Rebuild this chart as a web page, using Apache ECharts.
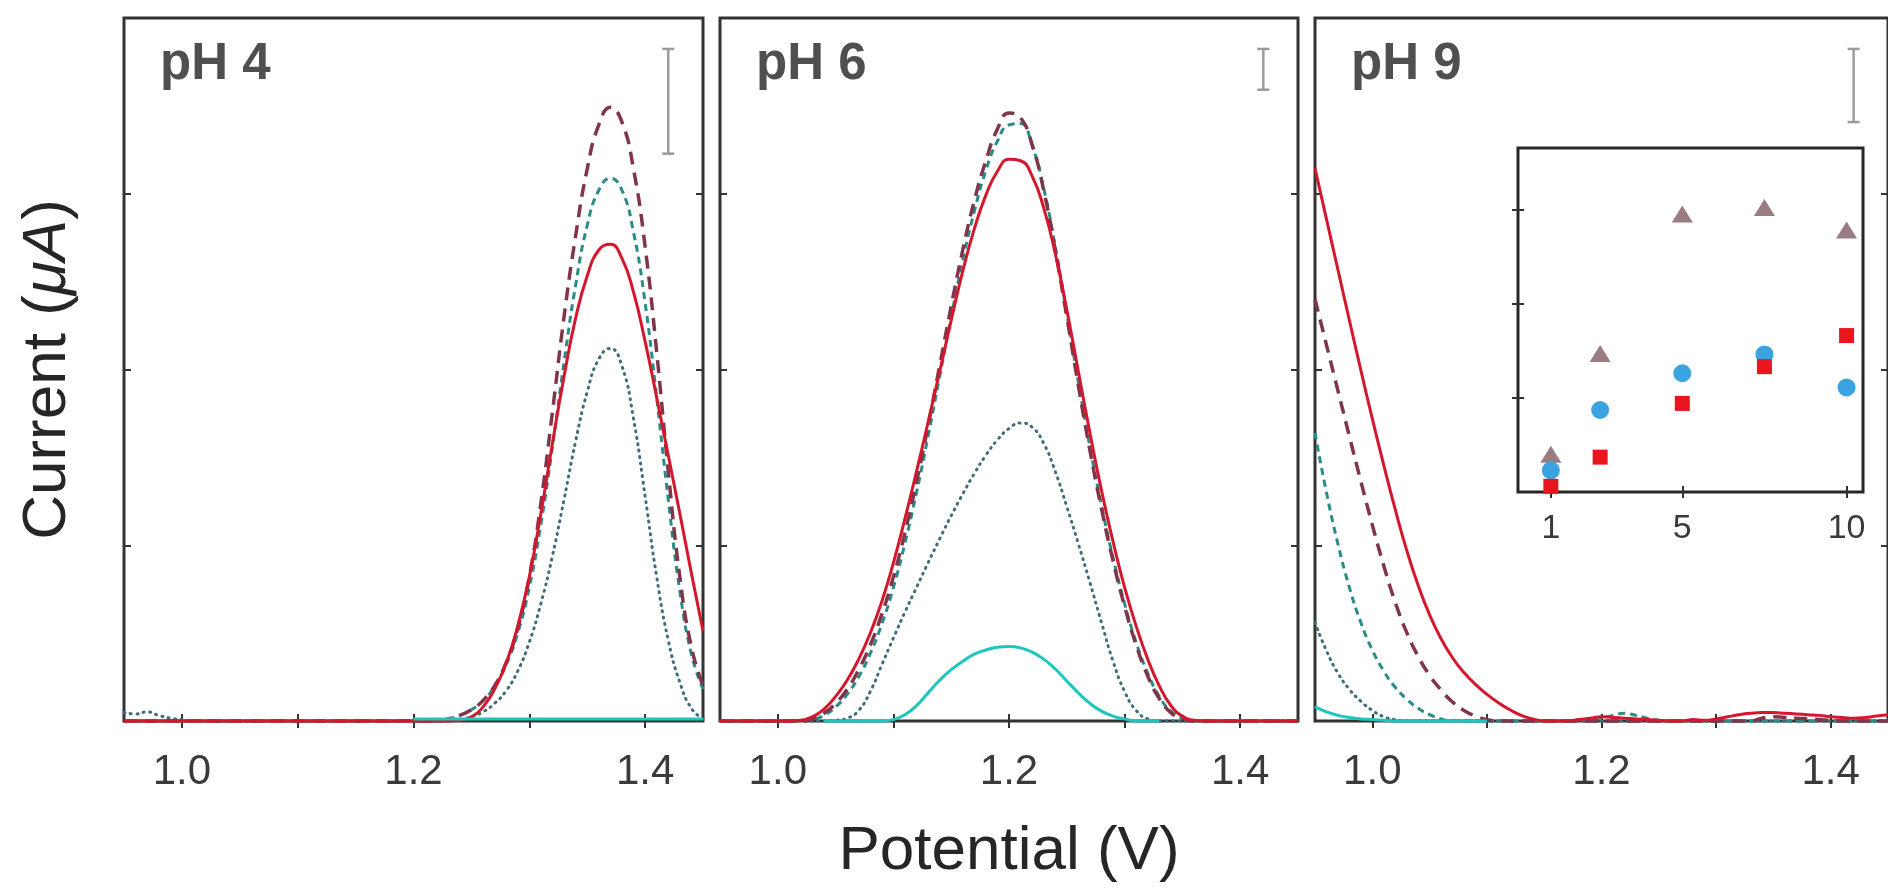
<!DOCTYPE html>
<html>
<head>
<meta charset="utf-8">
<title>Differential pulse voltammograms at pH 4, 6 and 9</title>
<script src="https://cdn.jsdelivr.net/npm/echarts@6/dist/echarts.min.js"></script>
<style>
  html, body { margin: 0; padding: 0; background: #ffffff; }
  #chart { width: 1888px; height: 889px; }
</style>
</head>
<body>
<div id="chart"></div>
<script>
// Potential grid (V) shared by every voltammogram
const POTENTIAL = [
  0.95, 0.96, 0.97, 0.98, 0.99,
  1.00, 1.01, 1.02, 1.03, 1.04, 1.05, 1.06, 1.07, 1.08, 1.09,
  1.10, 1.11, 1.12, 1.13, 1.14, 1.15, 1.16, 1.17, 1.18, 1.19,
  1.20, 1.21, 1.22, 1.23, 1.24, 1.25, 1.26, 1.27, 1.28, 1.29,
  1.30, 1.31, 1.32, 1.33, 1.34, 1.35, 1.36, 1.37, 1.38, 1.39,
  1.40, 1.41, 1.42, 1.43, 1.44, 1.45
];

// Tick values
const POTENTIAL_TICKS = [1.0, 1.1, 1.2, 1.3, 1.4];
const POTENTIAL_LABELS = [1.0, 1.2, 1.4];
const CURRENT_TICKS = [0.25, 0.5, 0.75];

// Currents, normalised to each panel's full height (null = not recorded)
// ---- pH 4 ----
const PH4_CYAN = [
  null, null, null, null, null,
  null, null, null, null, null, null, null, null, null, null,
  null, null, null, null, null, null, null, null, null, null,
  0.003, 0.003, 0.003, 0.003, 0.003, 0.003, 0.003, 0.003, 0.003, 0.003,
  0.003, 0.003, 0.003, 0.003, 0.003, 0.003, 0.003, 0.003, 0.003, 0.003,
  0.003, 0.003, 0.003, 0.003, 0.003, 0.003
];
const PH4_DOTTED = [
  0.012, 0.010, 0.013, 0.008, 0.004,
  0.002, 0, 0, 0, 0, 0, 0, 0, 0, 0,
  0, 0, 0, 0, 0, 0, 0, 0, 0, 0,
  0, 0, 0, 0, 0.002, 0.006, 0.013, 0.025, 0.043, 0.071,
  0.112, 0.167, 0.235, 0.315, 0.398, 0.468, 0.515, 0.53, 0.505, 0.43,
  0.32, 0.205, 0.115, 0.055, 0.018, 0.003
];
const PH4_TEAL = [
  0, 0, 0, 0, 0,
  0, 0, 0, 0, 0, 0, 0, 0, 0, 0,
  0, 0, 0, 0, 0, 0, 0, 0, 0, 0,
  0, 0, 0, 0.003, 0.008, 0.016, 0.029, 0.049, 0.08, 0.125,
  0.19, 0.28, 0.39, 0.51, 0.62, 0.705, 0.755, 0.772, 0.755, 0.695,
  0.595, 0.46, 0.315, 0.185, 0.095, 0.045
];
const PH4_BROWN = [
  0, 0, 0, 0, 0,
  0, 0, 0, 0, 0, 0, 0, 0, 0, 0,
  0, 0, 0, 0, 0, 0, 0, 0, 0, 0,
  0, 0, 0, 0.003, 0.008, 0.016, 0.029, 0.05, 0.083, 0.132,
  0.205, 0.31, 0.44, 0.575, 0.69, 0.785, 0.848, 0.873, 0.852, 0.785,
  0.675, 0.525, 0.355, 0.205, 0.105, 0.05
];
const PH4_RED = [
  0, 0, 0, 0, 0,
  0, 0, 0, 0, 0, 0, 0, 0, 0, 0,
  0, 0, 0, 0, 0, 0, 0, 0, 0, 0,
  0, 0, 0, 0, 0.001, 0.006, 0.02, 0.045, 0.082, 0.135,
  0.205, 0.295, 0.395, 0.49, 0.573, 0.633, 0.67, 0.678, 0.658, 0.61,
  0.54, 0.46, 0.378, 0.295, 0.21, 0.128
];

// ---- pH 6 ----
const PH6_CYAN = [
  null, null, null, null, null,
  null, null, null, null, 0, 0, 0, 0, 0, 0,
  0.002, 0.009, 0.022, 0.04, 0.058, 0.073, 0.085, 0.095, 0.101, 0.105,
  0.106, 0.104, 0.098, 0.088, 0.074, 0.057, 0.04, 0.025, 0.014, 0.007,
  0.003, 0, 0, 0, null, null, null, null, null, null,
  null, null, null, null, null, null
];
const PH6_DOTTED = [
  0, 0, 0, 0, 0,
  0, 0, 0, 0, 0, 0.001, 0.004, 0.015, 0.042, 0.08,
  0.118, 0.155, 0.19, 0.225, 0.259, 0.292, 0.323, 0.352, 0.378, 0.40,
  0.416, 0.424, 0.418, 0.395, 0.355, 0.305, 0.252, 0.197, 0.14, 0.085,
  0.042, 0.015, 0.003, 0, 0, 0, 0, 0, 0, 0,
  0, 0, 0, 0, 0, 0
];
const PH6_TEAL = [
  0, 0, 0, 0, 0,
  0, 0, 0, 0.002, 0.008, 0.02, 0.038, 0.063, 0.096, 0.138,
  0.19, 0.253, 0.325, 0.405, 0.49, 0.575, 0.655, 0.725, 0.783, 0.825,
  0.848, 0.85, 0.818, 0.758, 0.675, 0.58, 0.482, 0.39, 0.307, 0.232,
  0.167, 0.112, 0.068, 0.035, 0.014, 0.004, 0, 0, 0, 0,
  0, 0, 0, 0, 0, 0
];
const PH6_BROWN = [
  0, 0, 0, 0, 0,
  0, 0, 0, 0.003, 0.011, 0.025, 0.045, 0.073, 0.108, 0.152,
  0.205, 0.268, 0.34, 0.42, 0.505, 0.59, 0.67, 0.74, 0.797, 0.842,
  0.865, 0.858, 0.82, 0.755, 0.67, 0.575, 0.477, 0.385, 0.302, 0.228,
  0.163, 0.108, 0.064, 0.032, 0.012, 0.003, 0, 0, 0, 0,
  0, 0, 0, 0, 0, 0
];
const PH6_RED = [
  0, 0, 0, 0, 0,
  0, 0, 0.001, 0.006, 0.017, 0.035, 0.058, 0.088, 0.125, 0.17,
  0.225, 0.288, 0.355, 0.425, 0.497, 0.57, 0.64, 0.70, 0.748, 0.782,
  0.799, 0.797, 0.775, 0.73, 0.665, 0.585, 0.497, 0.41, 0.328, 0.255,
  0.19, 0.135, 0.088, 0.05, 0.022, 0.007, 0.001, 0, 0, 0,
  0, 0, 0, 0, 0, 0
];

// ---- pH 9 ----
const PH9_CYAN = [
  0.02, 0.013, 0.008, 0.005, 0.003,
  0.002, 0.001, 0, 0, 0, 0, 0, 0, 0, 0,
  0, null, null, null, null, null, null, null, null, null,
  null, null, null, null, null, null, null, null, null, null,
  null, null, null, null, null, null, null, null, null, null,
  null, null, null, null, null, null
];
const PH9_DOTTED = [
  0.14, 0.10, 0.068, 0.045, 0.028,
  0.015, 0.006, 0.002, 0, 0, 0, 0, 0, 0, 0,
  0, 0, 0, 0, 0, 0, 0, 0, 0, 0,
  0, 0, 0, 0, 0, 0, 0, 0, 0, 0,
  0, 0, 0, 0, 0, 0, 0, 0, 0, 0,
  0, 0, 0, 0, 0, 0
];
const PH9_TEAL = [
  0.41, 0.325, 0.252, 0.19, 0.14,
  0.101, 0.071, 0.048, 0.031, 0.018, 0.009, 0.003, 0, 0, 0,
  0, 0, 0, 0, 0, 0, 0, 0, 0, 0,
  0.004, 0.008, 0.011, 0.008, 0.004, 0.001, 0, 0, 0, 0,
  0, 0, 0, 0, 0, 0, 0, 0, 0, 0,
  0, 0, 0, 0, 0, 0
];
const PH9_BROWN = [
  0.60, 0.535, 0.47, 0.405, 0.341,
  0.279, 0.221, 0.169, 0.126, 0.092, 0.065, 0.044, 0.027, 0.015, 0.007,
  0.002, 0, 0, 0, 0, 0, 0, 0, 0, 0,
  0, 0, 0, 0, 0, 0, 0, 0, 0, 0,
  0, 0, 0, 0, 0.004, 0.006, 0.005, 0.004, 0.003, 0.002,
  0.001, 0, 0, 0, 0, 0
];
const PH9_RED = [
  0.786, 0.714, 0.642, 0.57, 0.499,
  0.43, 0.364, 0.301, 0.243, 0.193, 0.151, 0.117, 0.09, 0.069, 0.052,
  0.038, 0.026, 0.016, 0.008, 0.003, 0, 0, 0, 0.002, 0.004,
  0.006, 0.005, 0.004, 0.003, 0.002, 0.001, 0, 0, 0.002, 0.001,
  0.003, 0.006, 0.009, 0.011, 0.012, 0.012, 0.011, 0.01, 0.009, 0.008,
  0.006, 0.005, 0.004, 0.005, 0.007, 0.009
];

// Scale bar extents [bottom, top] at the scale-bar potential, one per panel
const SCALE_BAR_POTENTIAL = 1.42;
const SCALE_BAR_PH4 = [0.807, 0.956];
const SCALE_BAR_PH6 = [0.898, 0.956];
const SCALE_BAR_PH9 = [0.852, 0.956];

const PANEL_LABELS = ['pH 4', 'pH 6', 'pH 9'];

// Inset: peak current against concentration
const INSET_X = [1, 2.5, 5, 7.5, 10];
const INSET_X_TICKS = [1, 5, 10];
const INSET_Y_TICKS = [1, 2, 3];
const INSET_TRIANGLE = [0.40, 1.47, 2.95, 3.02, 2.78];
const INSET_CIRCLE = [0.23, 0.87, 1.26, 1.46, 1.11];
const INSET_SQUARE = [0.06, 0.37, 0.94, 1.33, 1.66];

const FONT = '"Liberation Sans", Arial, Helvetica, sans-serif';
const FRAME = '#333333';

const STYLES = {
  cyan:   { color: '#1ec6bf', width: 3, type: 'solid' },
  dotted: { color: '#3e6d76', width: 3, type: [1, 5.5], cap: 'round' },
  teal:   { color: '#2a8c87', width: 3, type: [7, 5] },
  brown:  { color: '#80364a', width: 3.5, type: [13, 8] },
  red:    { color: '#d4172d', width: 3, type: 'solid' }
};

const PANELS = [
  { left: 124, width: 579, curves: { dotted: PH4_DOTTED, teal: PH4_TEAL, brown: PH4_BROWN, red: PH4_RED, cyan: PH4_CYAN }, bar: SCALE_BAR_PH4 },
  { left: 720, width: 578, curves: { dotted: PH6_DOTTED, teal: PH6_TEAL, brown: PH6_BROWN, red: PH6_RED, cyan: PH6_CYAN }, bar: SCALE_BAR_PH6 },
  { left: 1315, width: 575, curves: { dotted: PH9_DOTTED, teal: PH9_TEAL, brown: PH9_BROWN, red: PH9_RED, cyan: PH9_CYAN }, bar: SCALE_BAR_PH9 }
];
const PANEL_TOP = 18;
const PANEL_HEIGHT = 703;

function pairs(xs, ys) {
  return xs.map((x, i) => [x, ys[i] === null ? '-' : ys[i]]);
}

const grids = [];
const xAxes = [];
const yAxes = [];
const series = [];

PANELS.forEach((p, k) => {
  grids.push({
    left: p.left, top: PANEL_TOP, width: p.width, height: PANEL_HEIGHT,
    show: true, borderColor: FRAME, borderWidth: 3, backgroundColor: 'transparent'
  });
  const tick = { inside: true, length: 7, customValues: POTENTIAL_TICKS, lineStyle: { color: FRAME, width: 2 } };
  xAxes.push({
    type: 'value', gridIndex: k, position: 'bottom', min: 0.95, max: 1.45,
    axisLine: { show: false }, splitLine: { show: false }, axisTick: tick,
    axisLabel: {
      customValues: POTENTIAL_LABELS, formatter: v => Number(v).toFixed(1),
      fontSize: 42, color: '#3a3a3a', fontFamily: FONT, margin: 30
    },
    name: k === 1 ? 'Potential (V)' : '',
    nameLocation: 'middle', nameGap: 100,
    nameTextStyle: { fontSize: 62, color: '#262626', fontFamily: FONT }
  });
  xAxes.push({
    type: 'value', gridIndex: k, position: 'top', min: 0.95, max: 1.45,
    axisLine: { show: false }, splitLine: { show: false }, axisTick: tick,
    axisLabel: { show: false }
  });
  const ytick = { inside: true, length: 7, customValues: CURRENT_TICKS, lineStyle: { color: FRAME, width: 2 } };
  yAxes.push({
    type: 'value', gridIndex: k, position: 'left', min: 0, max: 1,
    axisLine: { show: false }, splitLine: { show: false }, axisTick: ytick,
    axisLabel: { show: false },
    name: k === 0 ? 'Current ({i|μA})' : '',
    nameLocation: 'middle', nameGap: 45, nameRotate: 90,
    nameTextStyle: {
      fontSize: 62, color: '#262626', fontFamily: FONT,
      rich: { i: { fontSize: 62, color: '#262626', fontFamily: FONT, fontStyle: 'italic' } }
    }
  });
  yAxes.push({
    type: 'value', gridIndex: k, position: 'right', min: 0, max: 1,
    axisLine: { show: false }, splitLine: { show: false }, axisTick: ytick,
    axisLabel: { show: false }
  });

  ['dotted', 'teal', 'brown', 'red', 'cyan'].forEach(key => {
    const s = STYLES[key];
    series.push({
      type: 'line', xAxisIndex: 2 * k, yAxisIndex: 2 * k,
      data: pairs(POTENTIAL, p.curves[key]),
      showSymbol: false, smooth: 0.5,
      connectNulls: false, clip: false, silent: true,
      lineStyle: { color: s.color, width: s.width, type: s.type, cap: s.cap || 'butt', join: 'round' },
      z: 3
    });
  });

  // scale bar
  series.push({
    type: 'line', xAxisIndex: 2 * k, yAxisIndex: 2 * k,
    data: p.bar.map(v => [SCALE_BAR_POTENTIAL, v]),
    symbol: 'rect', symbolSize: [12, 2.5], showSymbol: true,
    itemStyle: { color: '#9b9b9b' },
    lineStyle: { color: '#9b9b9b', width: 2.5 },
    silent: true, z: 3
  });
});

// inset grid
const INSET = 3;
grids.push({
  left: 1518, top: 148, width: 345, height: 344,
  show: true, borderColor: '#272727', borderWidth: 3, backgroundColor: '#ffffff'
});
const itick = { inside: true, length: 6, customValues: INSET_X_TICKS, lineStyle: { color: FRAME, width: 2 } };
xAxes.push({
  type: 'value', gridIndex: INSET, position: 'bottom', min: 0, max: 10.5,
  axisLine: { show: false }, splitLine: { show: false }, axisTick: itick,
  axisLabel: { customValues: INSET_X_TICKS, fontSize: 34, color: '#3a3a3a', fontFamily: FONT, margin: 20 }
});
xAxes.push({
  type: 'value', gridIndex: INSET, position: 'top', min: 0, max: 10.5,
  axisLine: { show: false }, splitLine: { show: false }, axisTick: itick,
  axisLabel: { show: false }
});
const iytick = { inside: true, length: 6, customValues: INSET_Y_TICKS, lineStyle: { color: FRAME, width: 2 } };
yAxes.push({
  type: 'value', gridIndex: INSET, position: 'left', min: 0, max: 3.65,
  axisLine: { show: false }, splitLine: { show: false }, axisTick: iytick,
  axisLabel: { show: false }
});
yAxes.push({
  type: 'value', gridIndex: INSET, position: 'right', min: 0, max: 3.65,
  axisLine: { show: false }, splitLine: { show: false }, axisTick: iytick,
  axisLabel: { show: false }
});
const insetSets = [
  { values: INSET_TRIANGLE, symbol: 'triangle', size: [21, 17], color: '#9a7c83' },
  { values: INSET_CIRCLE, symbol: 'circle', size: 18, color: '#3ba3df' },
  { values: INSET_SQUARE, symbol: 'rect', size: 15, color: '#e9161f' }
];
insetSets.forEach((d, i) => {
  series.push({
    type: 'scatter', xAxisIndex: 6, yAxisIndex: 6,
    data: pairs(INSET_X, d.values),
    symbol: d.symbol, symbolSize: d.size,
    itemStyle: { color: d.color, opacity: 1 },
    silent: true, z: 5 + i
  });
});

const graphics = PANEL_LABELS.map((t, k) => ({
  type: 'text', left: PANELS[k].left + 36, top: 39, z: 10,
  style: { text: t, font: 'bold 51px ' + FONT, fill: '#4f4f4f' }
}));

const chart = echarts.init(document.getElementById('chart'), null, { renderer: 'canvas' });
chart.setOption({
  animation: false,
  backgroundColor: '#ffffff',
  grid: grids,
  xAxis: xAxes,
  yAxis: yAxes,
  series: series,
  graphic: graphics
});
</script>
</body>
</html>
